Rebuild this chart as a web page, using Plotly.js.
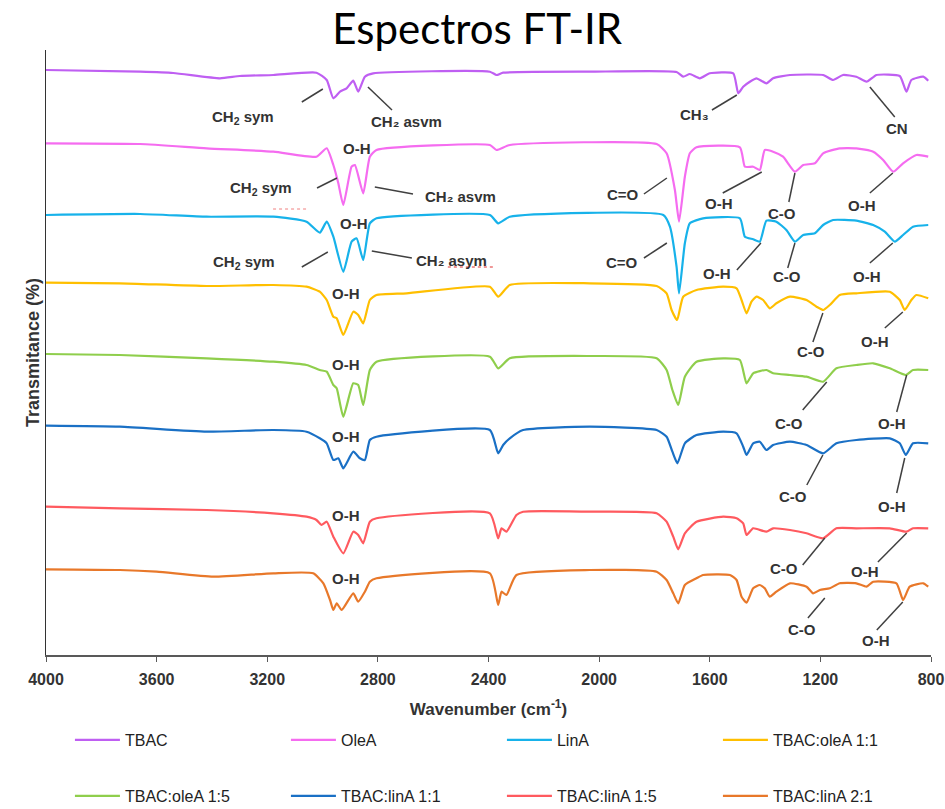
<!DOCTYPE html>
<html>
<head>
<meta charset="utf-8">
<script src="https://cdn.plot.ly/plotly-3.0.1.min.js"></script>
<style>html,body{margin:0;padding:0;background:#fff;}#chart{width:945px;height:809px;}</style>
</head>
<body>
<div id="chart"></div>
<script>
// Series names
const seriesNames = ["TBAC","OleA","LinA","TBAC:oleA 1:1","TBAC:oleA 1:5","TBAC:linA 1:1","TBAC:linA 1:5","TBAC:linA 2:1"];

// Wavenumbers (cm-1) and stacked transmittance readings for each spectrum
const wn_TBAC = [4000,3660,3540,3371,3299,3178,3022,2985,2961,2937,2913,2889,2871,2847,2817,2395,2371,2347,2034,1720,1696,1672,1636,1600,1515,1497,1479,1455,1431,1395,1371,1310,1190,1154,1118,1070,1033,997,913,889,871,828,810];
const T_TBAC = [585,583.3,582,576.7,579,580,582.3,575,556.7,563.3,566.7,574.3,563.3,578.3,581.7,583.3,580,582.3,583.3,583,578.3,581,576.7,581.7,581.7,561.7,568.3,573.3,576.7,571.7,576.7,580,580,575,580,578.3,573.3,580,579,563.3,575,578.3,574.3];

const wn_OleA = [4000,3660,3419,3178,3022,2985,2961,2943,2925,2895,2883,2853,2829,2805,2395,2371,2323,1792,1756,1726,1711,1690,1672,1648,1491,1473,1443,1419,1401,1371,1335,1292,1262,1220,1190,1130,1070,1009,973,937,901,853,810];
const T_OleA = [511.7,511,506.7,503.3,498.3,506.7,490,471.7,450,488.3,490,461.7,498.3,505,510,505,510,511,501.7,465,433.3,478.3,501.7,507.7,507.7,488.3,488.3,485,505,503.3,498.3,483.3,490,491.7,501.7,506.7,506.7,503.3,495,483.3,491.7,500,498.3];

const wn_LinA = [4000,3660,3419,3178,3058,3010,2985,2961,2925,2895,2877,2853,2829,2805,2395,2365,2323,1768,1744,1720,1711,1690,1672,1624,1491,1473,1443,1419,1395,1359,1323,1292,1262,1220,1190,1154,1070,1009,967,931,901,865,810];
const T_LinA = [440,441,438.3,438.3,433.3,422.3,433.3,418.3,383.3,413.3,416.7,395,431.7,436.7,440,431.7,438.3,440,428.3,388.3,361.7,411.7,431.7,436.7,436.7,418.3,415.7,413.3,434.3,433.3,425,413.3,420,421.7,430,435,434.3,430,423.3,413.3,420,428.3,430];

const wn_TO11 = [4000,3733,3419,3178,3058,3010,2985,2961,2949,2925,2889,2871,2853,2829,2805,2696,2395,2365,2323,2034,1792,1756,1738,1718,1696,1648,1551,1503,1485,1467,1449,1431,1407,1383,1359,1310,1250,1214,1190,1166,1130,1070,949,913,895,871,853,810];
const T_TO11 = [372.3,371.7,369,370,368.3,363.3,355,338.3,336.7,320,343.3,340,331.7,355,360,361.7,368.3,358.3,370,371.7,369,361.7,345,335,358.3,365,368.3,366.7,355,341.7,353.3,358.3,355,346.7,351.7,358.3,355,348.3,345,350,360,361.7,363.3,355,345,355,360,356.7];

const wn_TO15 = [4000,3733,3419,3178,3058,3010,2985,2961,2949,2925,2889,2871,2853,2829,2805,2395,2365,2323,2034,1792,1756,1735,1714,1690,1648,1551,1491,1467,1443,1395,1371,1310,1250,1190,1142,1070,1009,949,891,865,810];
const T_TO15 = [301,300,296.7,293.3,290,285,283.3,270,266.7,238.3,271.7,270,250,285,293.3,298.3,286.7,296.7,299,296.7,285,265,250,278.3,293.3,296.7,295,271.7,281.7,285,281.7,280,278.3,273.3,286.7,290,291.7,286.7,280,285,285];

const wn_TL11 = [4000,3733,3419,3178,3058,3010,2985,2961,2943,2925,2889,2865,2847,2829,2805,2395,2365,2347,2323,2275,2034,1792,1756,1735,1717,1690,1648,1551,1503,1479,1467,1443,1419,1395,1371,1310,1250,1190,1142,1070,949,913,891,865,810];
const T_TL11 = [229.3,228.3,223.3,225,223.3,216.7,211.7,195,196.7,186.7,203.3,196.7,195,215,218.3,225,201.7,210,216.7,225,228.3,225,218.3,203.3,191.7,211.7,220,223.3,221.7,208.3,200,211.7,213.3,205,210,213.3,210,201.7,211.7,215,216.7,211.7,200,211.7,211.7];

const wn_TL15 = [4000,3733,3419,3178,3058,3022,3004,2985,2961,2925,2889,2871,2853,2829,2805,2395,2365,2353,2335,2299,2275,2034,1792,1756,1732,1714,1690,1648,1551,1503,1479,1467,1443,1395,1371,1310,1250,1190,1142,1070,949,889,865,810];
const T_TL15 = [148.3,146.7,145,141.7,138.3,135,130,133.3,118.3,101.7,123.3,120,111.7,133.3,136.7,141.7,116.7,126.7,123.3,140,143.3,143.3,141.7,133.3,118.3,105.7,121.7,133.3,138.3,136.7,131.7,120,126.7,123.3,126.7,125,121.7,116.7,126.7,126.7,126.7,123.3,126.7,126.7];

const wn_TL21 = [4000,3733,3600,3395,3178,3034,2997,2973,2961,2949,2931,2889,2871,2847,2829,2805,2395,2365,2353,2335,2299,2034,1792,1756,1732,1714,1690,1648,1624,1527,1503,1485,1467,1443,1419,1401,1383,1359,1310,1250,1226,1202,1166,1130,1070,1033,1009,925,901,877,828,810];
const T_TL21 = [85.7,85,83.3,78.3,81.7,81.7,71.7,55,45,51.7,45,61.7,53.3,63.3,73.3,76.7,81.7,50,63.3,60,80,85,83.3,75,61.7,51.7,70,76.7,80,80,75,58.3,52.3,66.7,70,66.7,58.3,63.3,71.7,68.3,61.7,65,66.7,71.7,71.7,68.3,73.3,71.7,55,68.3,71.7,68.3];

const xTickVals = [4000,3600,3200,2800,2400,2000,1600,1200,800];

const colors = ["#bf5ff2","#f56cf0","#17b2ea","#ffbf00","#8fce4c","#1a70c5","#ff5a5f","#e8782a"];

const xs = [wn_TBAC,wn_OleA,wn_LinA,wn_TO11,wn_TO15,wn_TL11,wn_TL15,wn_TL21];
const ys = [T_TBAC,T_OleA,T_LinA,T_TO11,T_TO15,T_TL11,T_TL15,T_TL21];

const traces = seriesNames.map((n,i)=>({
  type:'scatter', mode:'lines', name:n, x:xs[i], y:ys[i],
  line:{color:colors[i], width:2.2, shape:'spline', smoothing:0.5},
  legend: i<4 ? 'legend' : 'legend2',
  hoverinfo:'x+name'
}));

// Peak labels: [text, x, y]
const labels = [
  ["CH<sub>2</sub> sym",3288,538],["CH₂ asvm",2695,534],["CH₃",1654,541],["CN",924,527],
  ["O-H",2876,507],["CH<sub>2</sub> sym",3223,467],["CH₂ asvm",2500,459],["C=O",1914,461],["O-H",1567,452],["C-O",1339,442],["O-H",1050,450],
  ["O-H",2887,432],["CH<sub>2</sub> sym",3284,393],["CH₂ asym",2532,395],["C=O",1918,393],["O-H",1574,382],["C-O",1321,379],["O-H",1032,379],
  ["O-H",2916,362],["C-O",1234,304],["O-H",1003,314],
  ["O-H",2916,291],["C-O",1314,232],["O-H",942,232],
  ["O-H",2916,219],["C-O",1300,159],["O-H",942,149],
  ["O-H",2916,140],["C-O",1332,87],["O-H",1039,84],
  ["O-H",2916,77],["C-O",1267,26],["O-H",1000,15]
];
// Leader lines: [x0,y0,x1,y1]
const leaders = [
  [3075,553,2999,566],[2836,568,2749,545],[1592,545,1502,560],[1021,568,931,538],
  [3020,467,2948,477],[2811,468,2673,461],[1838,461,1755,477],[1553,462,1412,483],[1314,453,1292,482],[1021,462,938,482],
  [3075,388,2981,403],[2822,404,2677,397],[1838,397,1755,412],[1502,385,1415,412],[1318,387,1292,412],[1021,392,938,412],
  [1227,313,1191,342],[967,327,902,343],
  [1264,245,1177,273],[924,243,888,280],
  [1249,170,1191,200],[924,162,895,197],
  [1264,90,1184,117],[992,93,888,122],
  [1245,37,1184,57],[996,25,902,53]
];

const annotations = labels.map(l=>({
  text:l[0], x:l[1], y:l[2], xref:'x', yref:'y', showarrow:false,
  xanchor:'center', yanchor:'middle',
  font:{family:'Arial, Liberation Sans, sans-serif', size:15, color:'#333333', weight:'bold'}
}));

const shapes = leaders.map(s=>({
  type:'line', xref:'x', yref:'y', x0:s[0], y0:s[1], x1:s[2], y1:s[3],
  line:{color:'#404040', width:1.5}
}));
// faint spell-check underlines seen in the original
shapes.push({type:'line', xref:'x', yref:'y', x0:3179, y0:446, x1:3056, y1:446, line:{color:'#f08080', width:1, dash:'dot'}});
shapes.push({type:'line', xref:'x', yref:'y', x0:2547, y0:388, x1:2377, y1:388, line:{color:'#e03030', width:1, dash:'dot'}});

const legendFont = {family:'Arial, Liberation Sans, sans-serif', size:16, color:'#222'};

const layout = {
  width:945, height:809,
  margin:{l:46, r:14, t:50, b:154},
  paper_bgcolor:'#fff', plot_bgcolor:'#fff',
  title:{text:'Espectros FT-IR', x:0.505, xref:'container', xanchor:'center', y:0.964, yref:'container', yanchor:'middle',
    font:{family:'Lato, Open Sans, sans-serif', size:42, color:'#000'}},
  xaxis:{
    range:[4000,800], tickvals:xTickVals, ticktext:xTickVals.map(String),
    showline:true, linecolor:'#595959', linewidth:1.5, ticks:'outside', ticklen:5, tickcolor:'#595959',
    showgrid:false, zeroline:false, ticklabelstandoff:4, automargin:false,
    tickfont:{family:'Arial, Liberation Sans, sans-serif', size:16, color:'#333', weight:'bold'},
    title:{text:'Wavenumber (cm<sup>-1</sup>)', standoff:16,
      font:{family:'Arial, Liberation Sans, sans-serif', size:17, color:'#333', weight:'bold'}}
  },
  yaxis:{
    range:[0,605], showline:true, linecolor:'#333', linewidth:1.5, ticks:'', showticklabels:false,
    showgrid:false, zeroline:false, automargin:false,
    title:{text:'Transmitance (%)', standoff:0,
      font:{family:'Arial, Liberation Sans, sans-serif', size:18, color:'#333', weight:'bold'}}
  },
  showlegend:true,
  legend:{orientation:'h', xref:'container', yref:'container', x:0.074, xanchor:'left', y:0.0853, yanchor:'middle',
    entrywidth:156, entrywidthmode:'pixels', font:legendFont, itemwidth:45, bgcolor:'rgba(0,0,0,0)'},
  legend2:{orientation:'h', xref:'container', yref:'container', x:0.074, xanchor:'left', y:0.016, yanchor:'middle',
    entrywidth:156, entrywidthmode:'pixels', font:legendFont, itemwidth:45, bgcolor:'rgba(0,0,0,0)'},
  annotations:annotations,
  shapes:shapes
};

Plotly.newPlot('chart', traces, layout, {displayModeBar:false, staticPlot:true});
</script>
</body>
</html>
